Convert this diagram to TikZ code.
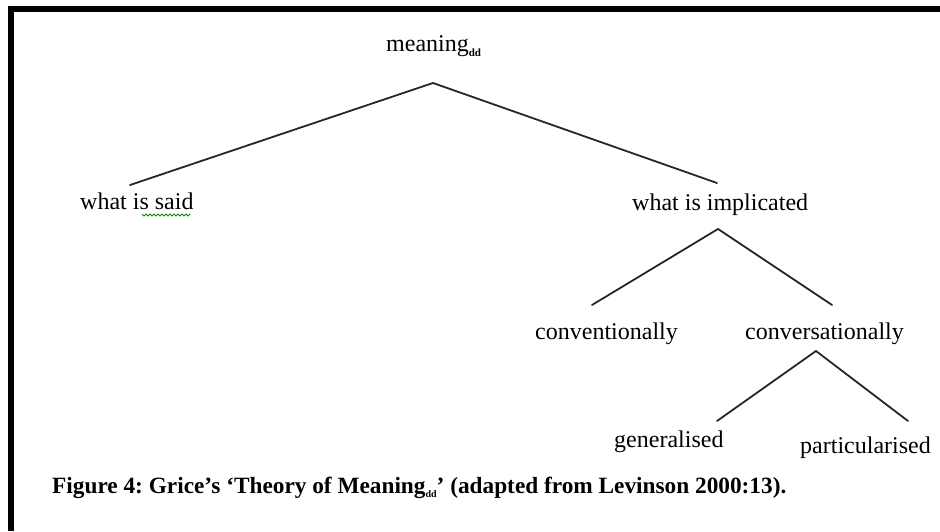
\documentclass[tikz,border=0pt]{standalone}
\usepackage{fontspec}
\setmainfont{Liberation Serif}
\frenchspacing
\begin{document}
\begin{tikzpicture}[x=1pt,y=1pt,
  lbl/.style={inner sep=0pt,anchor=base west,font=\fontsize{24}{28}\selectfont},
  branch/.style={line width=1.8pt,color=black!85,line cap=round},
  captext/.style={inner sep=0pt,anchor=base west,font=\fontsize{23.3}{27}\selectfont\bfseries}]
\useasboundingbox (0,0) rectangle (940,531);
% frame (top and left only)
\fill[black] (8,0) rectangle (14,525);
\fill[black] (8,519) rectangle (940,525);
% labels
\node[lbl] (meaning) at (386,479) {meaning\raisebox{-5pt}{\fontsize{11}{12}\selectfont\bfseries dd}};
\node[lbl] (said) at (80,321) {what is said};
\node[lbl] (impl) at (632,320) {what is implicated};
\node[lbl] (conv) at (535,192) {conventionally};
\node[lbl] (convers) at (745,192) {conversationally};
\node[lbl] (gen) at (614,84) {generalised};
\node[lbl] (part) at (800,78) {particularised};
\node[captext] (caption) at (52,38) {Figure 4: Grice’s ‘Theory of Meaning\raisebox{-4pt}{\fontsize{10}{11}\selectfont dd}’ (adapted from Levinson 2000:13).};
% squiggly underline under "said"
\draw[green!55!black,line width=0.8pt] (142,317) \foreach \i in {0,...,11} { -- ++(2,-2) -- ++(2,2)};
% connector endpoints
\coordinate (m-b) at (433,448);
\coordinate (s-t) at (130,346);
\coordinate (i-t) at (717,348);
\coordinate (i-b) at (718,302);
\coordinate (c-t) at (592,226);
\coordinate (cv-t) at (832,226);
\coordinate (cv-b) at (816,180);
\coordinate (g-t) at (717,110);
\coordinate (p-t) at (908,110);
\draw[branch] (s-t) -- (m-b) -- (i-t);
\draw[branch] (c-t) -- (i-b) -- (cv-t);
\draw[branch] (g-t) -- (cv-b) -- (p-t);
\end{tikzpicture}
\end{document}
